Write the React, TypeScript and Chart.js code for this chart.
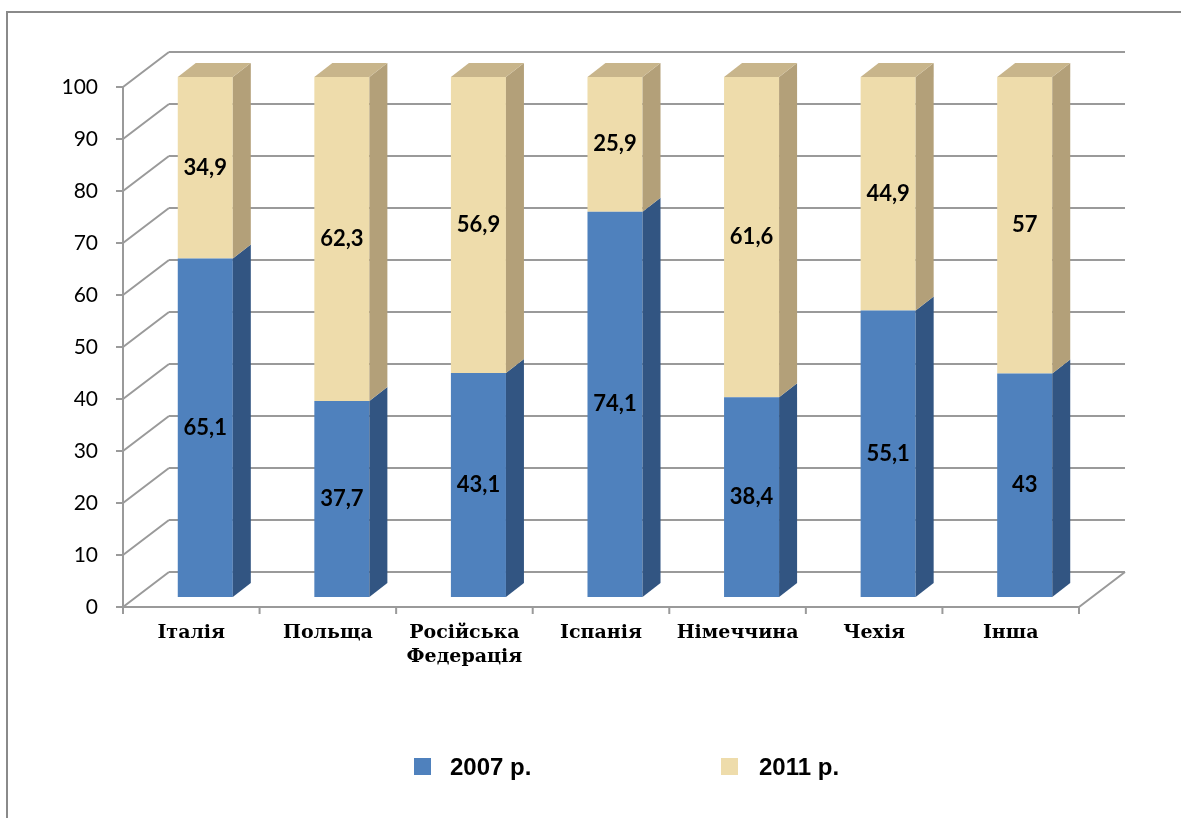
import React, { useEffect, useRef } from 'react';
import { Chart, registerables } from 'chart.js';

Chart.register(...registerables);

const categories: (string | string[])[] = [
  'Італія',
  'Польща',
  ['Російська', 'Федерація'],
  'Іспанія',
  'Німеччина',
  'Чехія',
  'Інша',
];
const values2007 = [65.1, 37.7, 43.1, 74.1, 38.4, 55.1, 43];
const values2011 = [34.9, 62.3, 56.9, 25.9, 61.6, 44.9, 57];
const seriesLabels = ['2007 р.', '2011 р.'];
const yMin = 0;
const yMax = 100;
const yStep = 10;

const BLUE = { front: '#4F81BD', side: '#325582', top: '#6C98CE' };
const TAN = { front: '#EEDCAB', side: '#B3A079', top: '#C8B58B' };
const seriesColors = [BLUE, TAN];

// 3D geometry (pixels)
const BOX_DX = 46;
const BOX_DY = -35;
const BAR_OX = 14;
const BAR_OY = -10;
const BAR_DX = 18;
const BAR_DY = -14;
const GRID_COLOR = '#9a9a9a';

const fmt = (v: number) => String(v).replace('.', ',');

const threeDPlugin = {
  id: 'threeD',
  beforeDraw(chart: any) {
    const ctx = chart.ctx;
    ctx.save();
    ctx.strokeStyle = '#8a8a8a';
    ctx.lineWidth = 2;
    ctx.beginPath();
    ctx.moveTo(7, chart.height + 5);
    ctx.lineTo(7, 12);
    ctx.lineTo(chart.width + 5, 12);
    ctx.stroke();
    ctx.restore();
  },
  beforeDatasetsDraw(chart: any) {
    const ctx = chart.ctx;
    const { left, right, top, bottom } = chart.chartArea;
    const y = chart.scales.y;
    ctx.save();
    ctx.strokeStyle = GRID_COLOR;
    ctx.lineWidth = 2;
    ctx.lineCap = 'butt';
    for (let v = yMin; v <= yMax; v += yStep) {
      const py = y.getPixelForValue(v);
      ctx.beginPath();
      ctx.moveTo(left + BOX_DX, py + BOX_DY);
      ctx.lineTo(right + BOX_DX, py + BOX_DY);
      ctx.moveTo(left, py);
      ctx.lineTo(left + BOX_DX, py + BOX_DY);
      ctx.moveTo(left - 7, py);
      ctx.lineTo(left, py);
      ctx.stroke();
    }
    // axis line and floor
    ctx.beginPath();
    ctx.moveTo(left, top);
    ctx.lineTo(left, bottom);
    ctx.lineTo(right, bottom);
    ctx.lineTo(right + BOX_DX, bottom + BOX_DY);
    ctx.stroke();
    // category ticks
    const n = categories.length;
    const cw = (right - left) / n;
    ctx.beginPath();
    for (let i = 0; i <= n; i++) {
      const px = left + i * cw;
      ctx.moveTo(px, bottom);
      ctx.lineTo(px, bottom + 7);
    }
    ctx.stroke();
    ctx.restore();
  },
  beforeDatasetDraw(chart: any) {
    chart.ctx.save();
    chart.ctx.translate(BAR_OX, BAR_OY);
  },
  afterDatasetDraw(chart: any) {
    chart.ctx.restore();
  },
  afterDatasetsDraw(chart: any) {
    const ctx = chart.ctx;
    const nDs = chart.data.datasets.length;
    ctx.save();
    for (let d = 0; d < nDs; d++) {
      const meta = chart.getDatasetMeta(d);
      const col = seriesColors[d];
      meta.data.forEach((el: any) => {
        const xl = el.x - el.width / 2 + BAR_OX;
        const xr = el.x + el.width / 2 + BAR_OX;
        const yt = el.y + BAR_OY;
        const yb = el.base + BAR_OY;
        ctx.fillStyle = col.side;
        ctx.beginPath();
        ctx.moveTo(xr, yt);
        ctx.lineTo(xr + BAR_DX, yt + BAR_DY);
        ctx.lineTo(xr + BAR_DX, yb + BAR_DY);
        ctx.lineTo(xr, yb);
        ctx.closePath();
        ctx.fill();
        if (d === nDs - 1) {
          ctx.fillStyle = col.top;
          ctx.beginPath();
          ctx.moveTo(xl, yt);
          ctx.lineTo(xl + BAR_DX, yt + BAR_DY);
          ctx.lineTo(xr + BAR_DX, yt + BAR_DY);
          ctx.lineTo(xr, yt);
          ctx.closePath();
          ctx.fill();
        }
      });
    }
    // data labels
    ctx.fillStyle = '#000';
    ctx.font = 'bold 22px Lato';
    ctx.textAlign = 'center';
    ctx.textBaseline = 'middle';
    for (let d = 0; d < nDs; d++) {
      const meta = chart.getDatasetMeta(d);
      const vals = chart.data.datasets[d].data;
      meta.data.forEach((el: any, i: number) => {
        ctx.fillText(fmt(vals[i]), el.x + BAR_OX, (el.y + el.base) / 2 + BAR_OY);
      });
    }
    ctx.restore();
  },
};

export default function App() {
  const ref = useRef<HTMLCanvasElement>(null);
  useEffect(() => {
    if (!ref.current) return;
    const chart = new Chart(ref.current, {
      type: 'bar',
      data: {
        labels: categories,
        datasets: [
          {
            label: seriesLabels[0],
            data: values2007,
            backgroundColor: BLUE.front,
            borderWidth: 0,
            categoryPercentage: 1,
            barPercentage: 0.403,
          },
          {
            label: seriesLabels[1],
            data: values2011,
            backgroundColor: TAN.front,
            borderWidth: 0,
            categoryPercentage: 1,
            barPercentage: 0.403,
          },
        ],
      },
      options: {
        responsive: false,
        animation: false,
        layout: { padding: { left: 0, right: 102, top: 87, bottom: 0 } },
        plugins: { legend: { display: false }, tooltip: { enabled: false } },
        scales: {
          x: {
            stacked: true,
            grid: { display: false, drawTicks: false },
            border: { display: false },
            ticks: {
              color: '#000',
              padding: 14,
              maxRotation: 0,
              autoSkip: false,
              font: { family: 'DejaVu Serif', weight: 'bold', size: 19, lineHeight: 1.26 },
            },
            afterFit: (s: any) => {
              s.height = 211;
            },
          },
          y: {
            stacked: true,
            min: yMin,
            max: yMax,
            grid: { display: false, drawTicks: false },
            border: { display: false },
            ticks: {
              stepSize: yStep,
              color: '#000',
              padding: 25,
              font: { family: 'Lato', size: 21 },
            },
            afterFit: (s: any) => {
              s.width = 123;
            },
          },
        },
      },
      plugins: [threeDPlugin],
    });
    return () => chart.destroy();
  }, []);

  const legendPos = [
    { sq: 414, tx: 450 },
    { sq: 721, tx: 759 },
  ];

  return (
    <div>
      <canvas
        ref={ref}
        width={1181}
        height={818}
        style={{ position: 'fixed', left: 0, top: 0, width: 1181, height: 818 }}
      />
      {seriesLabels.map((lab, i) => (
        <React.Fragment key={lab}>
          <div
            style={{
              position: 'fixed',
              left: legendPos[i].sq,
              top: 758,
              width: 17,
              height: 17,
              background: seriesColors[i].front,
            }}
          />
          <div
            style={{
              position: 'fixed',
              left: legendPos[i].tx,
              top: 752,
              height: 30,
              lineHeight: '30px',
              fontFamily: '"Liberation Sans", Arial, sans-serif',
              fontWeight: 'bold',
              fontSize: 24,
              color: '#000',
              whiteSpace: 'nowrap',
            }}
          >
            {lab}
          </div>
        </React.Fragment>
      ))}
    </div>
  );
}
